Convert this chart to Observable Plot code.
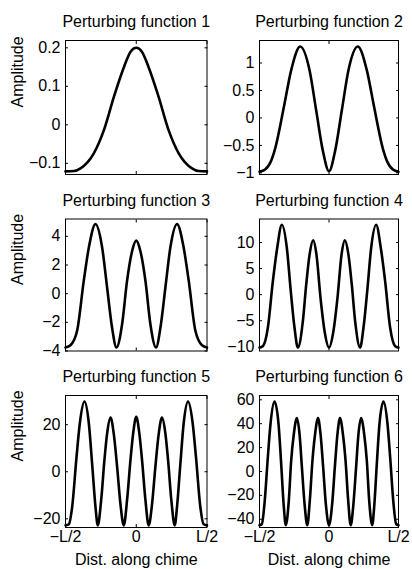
<!DOCTYPE html>
<html><head><meta charset="utf-8">
<script src="https://cdn.jsdelivr.net/npm/d3@7"></script>
<script src="https://cdn.jsdelivr.net/npm/@observablehq/plot@0.6"></script>
<style>
body{margin:0;background:#fff;}
#wrap{position:relative;width:412px;height:569px;overflow:hidden;font-family:"Liberation Sans",Arial,Helvetica,sans-serif;}
#wrap svg{position:absolute;}
</style></head><body><div id="wrap"></div>
<script>
// Titles
const titles = ["Perturbing function 1","Perturbing function 2","Perturbing function 3","Perturbing function 4","Perturbing function 5","Perturbing function 6"];
const yLabel = "Amplitude";
const xLabel = "Dist. along chime";
const xTickValues = [-0.5, 0, 0.5];
const xTickLabels = ["\u2212L/2", "0", "L/2"];

// Function 1
const x1 = [-0.5,-0.44,-0.394,-0.3,-0.228,-0.157,-0.086,-0.04,0,0.04,0.086,0.157,0.228,0.3,0.394,0.44,0.5];
const y1 = [-0.121,-0.12,-0.113,-0.074,-0.013,0.074,0.151,0.19,0.2,0.19,0.151,0.074,-0.013,-0.074,-0.113,-0.12,-0.121];
const yTicks1 = [-0.1, 0, 0.1, 0.2];
const yDomain1 = [-0.129, 0.219];

// Function 2
const x2 = [-0.5,-0.46,-0.416,-0.392,-0.32,-0.272,-0.207,-0.14,-0.092,-0.044,0,0.044,0.092,0.14,0.207,0.272,0.32,0.392,0.416,0.46,0.5];
const y2 = [-0.98,-0.94,-0.78,-0.6,0.26,0.87,1.3,0.87,0.135,-0.6,-0.97,-0.6,0.135,0.87,1.3,0.87,0.26,-0.6,-0.78,-0.94,-0.98];
const yTicks2 = [-1, -0.5, 0, 0.5, 1];
const yDomain2 = [-1.03, 1.41];

// Function 3
const x3 = [-0.5,-0.465,-0.418,-0.371,-0.335,-0.288,-0.241,-0.206,-0.171,-0.14,-0.1,-0.065,-0.029,0,0.029,0.065,0.1,0.14,0.171,0.206,0.241,0.288,0.335,0.371,0.418,0.465,0.5];
const y3 = [-3.75,-3.6,-2.59,0.89,3.22,4.85,3.22,0.43,-2.36,-3.75,-2.13,0.89,2.98,3.7,2.98,0.89,-2.13,-3.75,-2.36,0.43,3.22,4.85,3.22,0.89,-2.59,-3.6,-3.75];
const yTicks3 = [-4, -2, 0, 2, 4];
const yDomain3 = [-4, 5.21];

// Function 4
const x4 = [-0.5,-0.476,-0.44,-0.404,-0.373,-0.339,-0.303,-0.277,-0.248,-0.224,-0.188,-0.164,-0.14,-0.114,-0.09,-0.061,-0.032,0,0.032,0.061,0.09,0.114,0.14,0.164,0.188,0.224,0.248,0.277,0.303,0.339,0.373,0.404,0.44,0.476,0.5];
const y4 = [-10.15,-9.9,-6.35,2.54,8.89,13.4,8.89,1.27,-6.35,-10.15,-5.08,1.9,7.62,10.4,7.62,-0.63,-6.98,-10.15,-6.98,-0.63,7.62,10.4,7.62,1.9,-5.08,-10.15,-6.35,1.27,8.89,13.4,8.89,2.54,-6.35,-9.9,-10.15];
const yTicks4 = [-10, -5, 0, 5, 10];
const yDomain4 = [-10.8, 14.5];

// Function 5
const x5 = [-0.5,-0.476,-0.453,-0.422,-0.399,-0.366,-0.335,-0.312,-0.288,-0.272,-0.248,-0.225,-0.206,-0.182,-0.159,-0.135,-0.112,-0.088,-0.065,-0.041,-0.022,0,0.022,0.041,0.065,0.088,0.112,0.135,0.159,0.182,0.206,0.225,0.248,0.272,0.288,0.312,0.335,0.366,0.399,0.422,0.453,0.476,0.5];
const y5 = [-22.8,-22.3,-15,6.3,20.5,29.8,20.5,3.5,-15,-22.8,-12.1,4.9,16.2,23,16.2,2,-13.5,-22.8,-12.1,4.9,16.2,23.3,16.2,4.9,-12.1,-22.8,-13.5,2,16.2,23,16.2,4.9,-12.1,-22.8,-15,3.5,20.5,29.8,20.5,6.3,-15,-22.3,-22.8];
const yTicks5 = [-20, 0, 20];
const yDomain5 = [-23.7, 32.4];

// Function 6
const x6 = [-0.5,-0.483,-0.464,-0.44,-0.421,-0.392,-0.363,-0.344,-0.325,-0.311,-0.289,-0.272,-0.253,-0.231,-0.212,-0.195,-0.176,-0.156,-0.138,-0.119,-0.1,-0.079,-0.061,-0.042,-0.023,0,0.023,0.042,0.061,0.079,0.1,0.119,0.138,0.156,0.176,0.195,0.212,0.231,0.253,0.272,0.289,0.311,0.325,0.344,0.363,0.392,0.421,0.44,0.464,0.483,0.5];
const y6 = [-45,-44,-26.9,11.9,39.7,58.5,39.7,6.4,-29.7,-45,-24.2,9.2,31.4,44.7,31.4,3.6,-26.9,-45,-24.2,9.2,31.4,44.7,31.4,3.6,-26.9,-45,-26.9,3.6,31.4,44.7,31.4,9.2,-24.2,-45,-26.9,3.6,31.4,44.7,31.4,9.2,-24.2,-45,-29.7,6.4,39.7,58.5,39.7,11.9,-26.9,-44,-45];
const yTicks6 = [-40, -20, 0, 20, 40, 60];
const yDomain6 = [-46.9, 63.6];

const panels = [
  {xs:x1, ys:y1, ticks:yTicks1, domain:yDomain1},
  {xs:x2, ys:y2, ticks:yTicks2, domain:yDomain2},
  {xs:x3, ys:y3, ticks:yTicks3, domain:yDomain3},
  {xs:x4, ys:y4, ticks:yTicks4, domain:yDomain4},
  {xs:x5, ys:y5, ticks:yTicks5, domain:yDomain5},
  {xs:x6, ys:y6, ticks:yTicks6, domain:yDomain6}
];

const colGeom = [{left:0, width:230, ml:65, mr:23.5}, {left:230, width:182, ml:29, mr:14}];
const rowGeom = [{top:0, height:190, mt:40, mb:16}, {top:190, height:180, mt:28.5, mb:19.5}, {top:370, height:199, mt:25, mb:42}];

const FONT = "'Liberation Sans', Arial, Helvetica, sans-serif";
const FS = 16;
const fmt = d => String(d).replace("-", "\u2212");
const wrap = document.getElementById("wrap");

panels.forEach((p, i) => {
  const col = i % 2, row = Math.floor(i / 2);
  const cg = colGeom[col], rg = rowGeom[row];
  const data = p.xs.map((x, j) => ({x, y: p.ys[j]}));
  const marks = [
    Plot.axisY(p.ticks, {anchor: "left", tickSize: 0, tickPadding: 5, tickFormat: fmt, fontSize: FS, label: null}),
    Plot.axisY(p.ticks, {anchor: "left", tickSize: -3, tickFormat: () => "", label: null}),
    Plot.axisY(p.ticks, {anchor: "right", tickSize: -3, tickFormat: () => "", label: null}),
    Plot.axisX(xTickValues, {anchor: "bottom", tickSize: -3, tickFormat: () => "", label: null}),
    Plot.axisX(xTickValues, {anchor: "top", tickSize: -3, tickFormat: () => "", label: null}),
    Plot.frame({stroke: "black", strokeWidth: 1}),
    Plot.line(data, {x: "x", y: "y", curve: "monotone-x", stroke: "black", strokeWidth: 2.6}),
    Plot.text([titles[i]], {frameAnchor: "top", dy: -13.5, lineAnchor: "bottom", fontSize: FS, fill: "black"})
  ];
  if (col === 0) {
    marks.push(Plot.text([yLabel], {frameAnchor: "left", dx: -48, rotate: -90, fontSize: FS, fill: "black"}));
  }
  if (row === 2) {
    marks.push(Plot.axisX(xTickValues, {anchor: "bottom", tickSize: 0, tickPadding: 3, tickFormat: d => xTickLabels[xTickValues.indexOf(d)], fontSize: FS, label: null}));
    marks.push(Plot.text([xLabel], {frameAnchor: "bottom", dy: 37.5, lineAnchor: "bottom", fontSize: FS, fill: "black"}));
  }
  const svg = Plot.plot({
    width: cg.width, height: rg.height,
    marginLeft: cg.ml, marginRight: cg.mr, marginTop: rg.mt, marginBottom: rg.mb,
    x: {domain: [-0.5, 0.5]},
    y: {domain: p.domain},
    style: {fontFamily: FONT, fontSize: FS + "px", background: "transparent", overflow: "visible", color: "black"},
    marks
  });
  svg.style.left = cg.left + "px";
  svg.style.top = rg.top + "px";
  wrap.appendChild(svg);
});
</script>
</body></html>
